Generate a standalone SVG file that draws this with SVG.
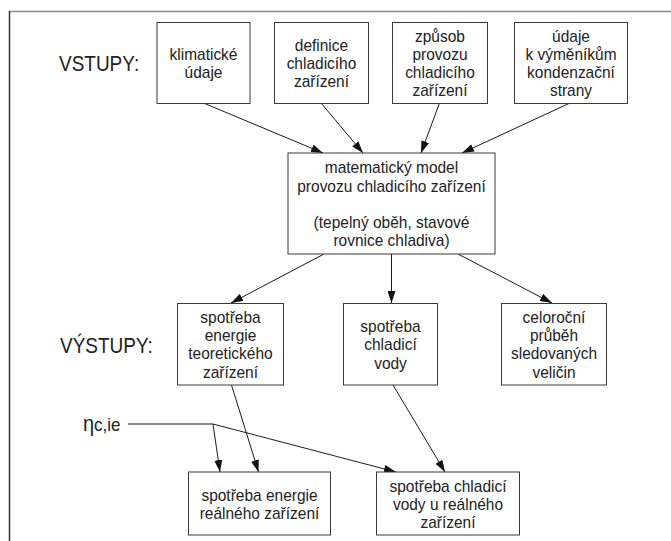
<svg xmlns="http://www.w3.org/2000/svg" width="671" height="541" viewBox="0 0 671 541">
  <defs>
    <style>
      .box { fill: #ffffff; stroke: #3a3a3a; stroke-width: 1; }
      text { transform-box: fill-box; transform-origin: center; transform: scaleY(1.12); }
      .t { font-family: "Liberation Sans", Arial, sans-serif; font-size: 15.5px; fill: #222222; text-anchor: middle; }
      .lbl { font-family: "Liberation Sans", Arial, sans-serif; font-size: 19px; fill: #222222; }
      .edge { fill: none; stroke: #1a1a1a; stroke-width: 1; }
    </style>
    <marker id="ah" viewBox="0 0 12 8" refX="12" refY="4" markerWidth="12" markerHeight="8" markerUnits="userSpaceOnUse" orient="auto">
      <path d="M0,0 L12,4 L0,8 z" fill="#111111"/>
    </marker>
  </defs>
  <rect width="671" height="541" fill="#ffffff"/>

  <g id="frame">
    <line x1="9" y1="11.5" x2="671" y2="11.5" stroke="#8a8a8a" stroke-width="1.5"/>
    <line x1="9.5" y1="11" x2="9.5" y2="541" stroke="#333333" stroke-width="1.5"/>
  </g>

  <g id="label-vstupy"><text class="lbl" x="59" y="70">VSTUPY:</text></g>
  <g id="label-vystupy"><text class="lbl" x="60" y="352">VÝSTUPY:</text></g>
  <g id="label-eta">
    <text x="83" y="430" font-family="'Liberation Sans', Arial, sans-serif" fill="#222222"><tspan font-size="20">η</tspan><tspan font-size="17">c,ie</tspan></text>
  </g>

  <g id="connectors">
    <line class="edge" x1="203.5" y1="103" x2="323" y2="153" marker-end="url(#ah)"/>
    <line class="edge" x1="321" y1="103" x2="363" y2="153" marker-end="url(#ah)"/>
    <line class="edge" x1="439.5" y1="103" x2="421" y2="153" marker-end="url(#ah)"/>
    <line class="edge" x1="570" y1="103" x2="462" y2="153" marker-end="url(#ah)"/>
    <line class="edge" x1="324" y1="254" x2="231" y2="303" marker-end="url(#ah)"/>
    <line class="edge" x1="391.5" y1="254" x2="391.5" y2="303" marker-end="url(#ah)"/>
    <line class="edge" x1="458" y1="254" x2="552" y2="303" marker-end="url(#ah)"/>
    <line class="edge" x1="231.5" y1="385" x2="258.5" y2="472" marker-end="url(#ah)"/>
    <line class="edge" x1="393" y1="385" x2="445" y2="472" marker-end="url(#ah)"/>
    <line class="edge" x1="128" y1="424" x2="213" y2="424"/>
    <line class="edge" x1="213" y1="424" x2="220" y2="472" marker-end="url(#ah)"/>
    <line class="edge" x1="213" y1="424" x2="396" y2="472" marker-end="url(#ah)"/>
  </g>

  <g id="n-klima">
    <rect class="box" x="157" y="22.5" width="93" height="81"/>
    <text class="t" x="203.5" y="59">klimatické</text>
    <text class="t" x="203.5" y="77">údaje</text>
  </g>
  <g id="n-definice">
    <rect class="box" x="274.5" y="22.5" width="94" height="81"/>
    <text class="t" x="321.5" y="50">definice</text>
    <text class="t" x="321.5" y="68">chladicího</text>
    <text class="t" x="321.5" y="86.5">zařízení</text>
  </g>
  <g id="n-zpusob">
    <rect class="box" x="392.5" y="22.5" width="95" height="81"/>
    <text class="t" x="440" y="41">způsob</text>
    <text class="t" x="440" y="59">provozu</text>
    <text class="t" x="440" y="77.5">chladicího</text>
    <text class="t" x="440" y="95.5">zařízení</text>
  </g>
  <g id="n-udaje">
    <rect class="box" x="514.5" y="22.5" width="113" height="81"/>
    <text class="t" x="571" y="41">údaje</text>
    <text class="t" x="571" y="59">k výměníkům</text>
    <text class="t" x="571" y="77.5">kondenzační</text>
    <text class="t" x="571" y="95.5">strany</text>
  </g>

  <g id="n-model">
    <rect class="box" x="288" y="153" width="207" height="101"/>
    <text class="t" x="391.5" y="172.5">matematický model</text>
    <text class="t" x="391.5" y="191">provozu chladicího zařízení</text>
    <text class="t" x="391.5" y="227.5">(tepelný oběh, stavové</text>
    <text class="t" x="391.5" y="245.5">rovnice chladiva)</text>
  </g>

  <g id="n-energie-teor">
    <rect class="box" x="177.5" y="303.5" width="106" height="81.5"/>
    <text class="t" x="230.5" y="322">spotřeba</text>
    <text class="t" x="230.5" y="340.5">energie</text>
    <text class="t" x="230.5" y="358.5">teoretického</text>
    <text class="t" x="230.5" y="377">zařízení</text>
  </g>
  <g id="n-voda">
    <rect class="box" x="343.5" y="303.5" width="94" height="81.5"/>
    <text class="t" x="390.5" y="331">spotřeba</text>
    <text class="t" x="390.5" y="349.5">chladicí</text>
    <text class="t" x="390.5" y="368">vody</text>
  </g>
  <g id="n-celorocni">
    <rect class="box" x="501.5" y="303.5" width="105" height="81.5"/>
    <text class="t" x="554" y="322">celoroční</text>
    <text class="t" x="554" y="340.5">průběh</text>
    <text class="t" x="554" y="358.5">sledovaných</text>
    <text class="t" x="554" y="377">veličin</text>
  </g>

  <g id="n-energie-real">
    <rect class="box" x="188.5" y="472" width="142" height="63"/>
    <text class="t" x="259.5" y="500">spotřeba energie</text>
    <text class="t" x="259.5" y="518.5">reálného zařízení</text>
  </g>
  <g id="n-voda-real">
    <rect class="box" x="376.5" y="472" width="143" height="63"/>
    <text class="t" x="448" y="491">spotřeba chladicí</text>
    <text class="t" x="448" y="509">vody u reálného</text>
    <text class="t" x="448" y="527.5">zařízení</text>
  </g>
</svg>
